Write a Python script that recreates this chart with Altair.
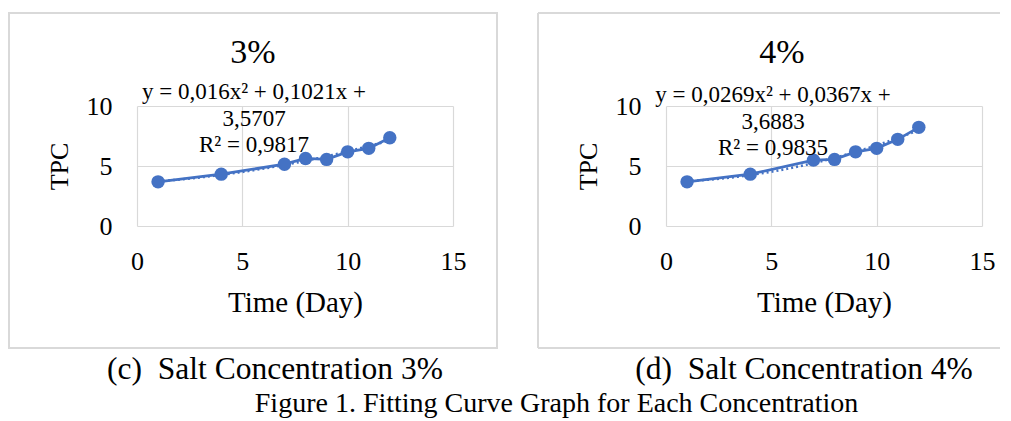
import altair as alt
import pandas as pd

# ---- data ----
days = [1, 4, 7, 8, 9, 10, 11, 12]
tpc_3 = [3.68, 4.32, 5.15, 5.63, 5.55, 6.18, 6.47, 7.35]
tpc_4 = [3.68, 4.32, 5.49, 5.55, 6.18, 6.47, 7.22, 8.22]
panel_titles = ["3%", "4%"]
eq_3 = ["y = 0,016x\u00b2 + 0,1021x +", "3,5707", "R\u00b2 = 0,9817"]
eq_4 = ["y = 0,0269x\u00b2 + 0,0367x +", "3,6883", "R\u00b2 = 0,9835"]
captions = ["(c)\u00a0 Salt Concentration 3%", "(d)\u00a0 Salt Concentration 4%"]
figure_caption = "Figure 1. Fitting Curve Graph for Each Concentration"
x_ticks = [0, 5, 10, 15]
y_ticks = [0, 5, 10]

BLUE = "#4472C4"
GRID = "#D9D9D9"
FONT = "Liberation Serif"
W, H = 316, 120


def text_layer(txt, x, y, size):
    return alt.Chart(pd.DataFrame({"t": [txt]})).mark_text(
        font=FONT, fontSize=size, color="black", align="center", baseline="middle"
    ).encode(x=alt.value(x), y=alt.value(y), text="t:N")


def panel(values, title, eq, caption, eq_x, eq_y, left_box):
    df = pd.DataFrame({"day": days, "tpc": values})
    base = alt.Chart(df)
    x = alt.X("day:Q", scale=alt.Scale(domain=[0, 15], nice=False),
              axis=alt.Axis(values=x_ticks, title="Time (Day)", labelPadding=22,
                            titlePadding=14, titleFontSize=29))
    y = alt.Y("tpc:Q", scale=alt.Scale(domain=[0, 10], nice=False),
              axis=alt.Axis(values=y_ticks, title="TPC", labelPadding=25,
                            titlePadding=14, titleFontSize=26))
    one = alt.Chart(pd.DataFrame({"a": [0]}))
    if left_box:
        frame = [one.mark_rect(fillOpacity=0, stroke=GRID, strokeWidth=2).encode(
            x=alt.value(-128), x2=alt.value(360), y=alt.value(-93), y2=alt.value(242))]
    else:
        frame = [
            one.mark_rule(stroke=GRID, strokeWidth=2).encode(
                x=alt.value(-128), x2=alt.value(-128), y=alt.value(-93), y2=alt.value(242)),
            one.mark_rule(stroke=GRID, strokeWidth=2).encode(
                x=alt.value(-128), x2=alt.value(334), y=alt.value(-93), y2=alt.value(-93)),
            one.mark_rule(stroke=GRID, strokeWidth=2).encode(
                x=alt.value(-128), x2=alt.value(334), y=alt.value(242), y2=alt.value(242)),
        ]
    trend = base.transform_regression("day", "tpc", method="poly", order=2).mark_line(
        color=BLUE, strokeWidth=2.5, strokeDash=[2, 3]).encode(x=x, y=y)
    line = base.mark_line(color=BLUE, strokeWidth=2.75).encode(x=x, y=y)
    pts = base.mark_circle(color=BLUE, size=180, opacity=1).encode(x=x, y=y)
    texts = [text_layer(title, 116, -53, 34)]
    for i, ln in enumerate(eq):
        texts.append(text_layer(ln, eq_x, eq_y + 26.5 * i, 23))
    texts.append(text_layer(caption, 138, 264, 31.5))
    return alt.layer(*frame, trend, line, pts, *texts).properties(width=W, height=H)


left = panel(tpc_3, panel_titles[0], eq_3, captions[0], 117, -14, True)
right = panel(tpc_4, panel_titles[1], eq_4, captions[1], 107, -11, False)

chart = alt.hconcat(left, right, spacing=39).properties(
    padding={"left": 0, "top": 4, "right": 0, "bottom": 0},
    title=alt.TitleParams(text=figure_caption, orient="bottom", anchor="middle",
                          font=FONT, fontSize=28, fontWeight="normal", color="black",
                          offset=4, dx=52),
).configure_view(stroke=None).configure_axis(
    labelFont=FONT, labelFontSize=26, labelColor="black", titleFont=FONT,
    titleFontWeight="normal", titleColor="black", grid=True, gridColor=GRID,
    gridWidth=1.2, domain=False, ticks=False, labelFlush=False, labelOverlap=False,
)

chart.save("out.html", embed_options={"renderer": "svg", "actions": False})
